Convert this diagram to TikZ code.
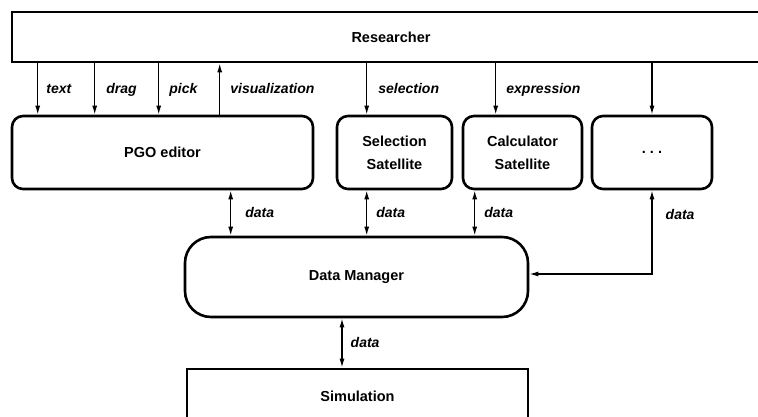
\documentclass[tikz,border=0pt]{standalone}
\usepackage{fontspec}
\setmainfont{Liberation Sans}
\usetikzlibrary{arrows.meta}
\begin{document}
\begin{tikzpicture}[x=1pt,y=-1pt,
  box/.style={draw, line width=2.6pt, inner sep=0pt, align=center,
    font=\fontsize{14.5}{23}\selectfont\bfseries},
  rbox/.style={box, rounded corners=11pt},
  tip/.tip={Latex[length=9pt,width=5pt]},
  arr/.style={line width=1.4pt, -tip},
  darr/.style={line width=1.4pt, tip-tip},
  lab/.style={font=\fontsize{14}{16}\selectfont\bfseries\itshape, inner sep=0pt,
    text height=10pt, text depth=1pt}]
\clip (0,0) rectangle (758,417);
\fill[white] (0,0) rectangle (758,417);

% boxes
\node[box, minimum width=758pt, minimum height=50pt] (res) at (391,37) {Researcher};
\node[rbox, minimum width=301pt, minimum height=73pt] (pgo) at (162.5,152.5) {PGO editor};
\node[rbox, minimum width=115pt, minimum height=73pt] (sel) at (394.5,152.5) {Selection\\Satellite};
\node[rbox, minimum width=119pt, minimum height=73pt] (calc) at (522.5,152.5) {Calculator\\Satellite};
\node[rbox, minimum width=120pt, minimum height=73pt] (more) at (652,152.5) {.\hspace{4pt}.\hspace{4pt}.};
\node[box, rounded corners=26pt, minimum width=343pt, minimum height=80pt] (dm) at (356.5,277) {Data Manager};
\node[box, minimum width=341pt, minimum height=54pt] (sim) at (357.5,396) {Simulation};

% attachment points
\coordinate (t1) at ([xshift=27pt]pgo.north west);
\coordinate (t2) at ([xshift=84pt]pgo.north west);
\coordinate (t3) at ([xshift=148pt]pgo.north west);
\coordinate (t4) at ([xshift=209pt]pgo.north west);
\coordinate (t5) at ([xshift=31pt]sel.north west);
\coordinate (t6) at ([xshift=34pt]calc.north west);
\coordinate (d1) at ([xshift=220pt]pgo.south west);
\coordinate (d2) at ([xshift=31pt]sel.south west);
\coordinate (d3) at ([xshift=13pt]calc.south west);
\coordinate (d4) at ([xshift=-14.5pt]dm.south);
\coordinate (d5) at ([yshift=3pt]dm.east);

% user interaction
\draw[arr] (res.south -| t1) -- node[lab, right=8pt] {text} (t1);
\draw[arr] (res.south -| t2) -- node[lab, right=11pt] {drag} (t2);
\draw[arr] (res.south -| t3) -- node[lab, right=10pt] {pick} (t3);
\draw[arr] (t4) -- node[lab, right=10pt] {visualization} (res.south -| t4);
\draw[arr] (res.south -| t5) -- node[lab, right=11pt] {selection} (t5);
\draw[arr] (res.south -| t6) -- node[lab, right=10pt] {expression} (t6);
\draw[arr] (res.south -| more.north) -- (more.north);

% data flow
\draw[darr] (d1) -- node[lab, right=14pt] {data} (dm.north -| d1);
\draw[darr] (d2) -- node[lab, right=9pt] {data} (dm.north -| d2);
\draw[darr] (d3) -- node[lab, right=9pt] {data} (dm.north -| d3);
\draw[darr] (more.south) -- node[lab, right=13pt, pos=0.3] {data} (more.south |- d5) -- (d5);
\draw[darr] (d4) -- node[lab, right=8pt] {data} (sim.north -| d4);
\end{tikzpicture}
\end{document}
